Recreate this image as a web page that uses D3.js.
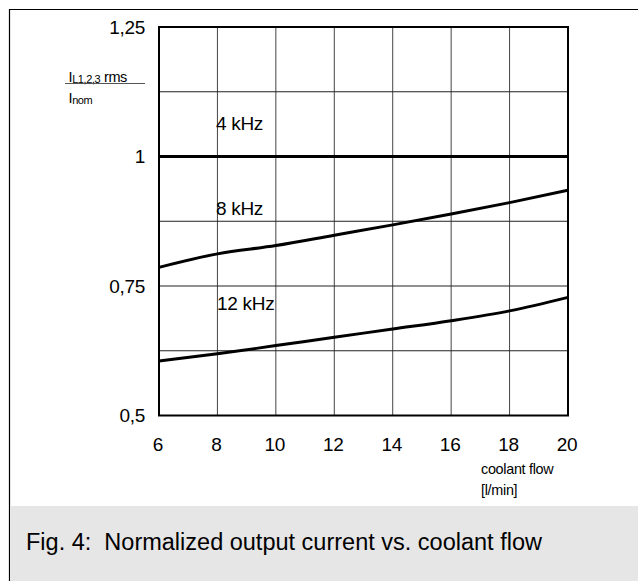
<!DOCTYPE html>
<html>
<head>
<meta charset="utf-8">
<script src="https://cdn.jsdelivr.net/npm/d3@7"></script>
<style>
  body { margin: 0; background: white; }
  text { font-family: "Liberation Sans", Arial, sans-serif; fill: #000; }
</style>
</head>
<body>
<div id="d3_cont"></div>
<script>
// data
var flow = [6, 8, 10, 12, 14, 16, 18, 20];
var khz4 = [1, 1, 1, 1, 1, 1, 1, 1];
var khz8 = [0.786, 0.812, 0.828, 0.848, 0.868, 0.889, 0.911, 0.935];
var khz12 = [0.605, 0.619, 0.635, 0.651, 0.667, 0.683, 0.702, 0.728];
var seriesNames = ["4 kHz", "8 kHz", "12 kHz"];
var xTicks = [6, 8, 10, 12, 14, 16, 18, 20];
var yTicks = [0.5, 0.75, 1, 1.25];
var yTickLabels = ["0,5", "0,75", "1", "1,25"];
var yGrid = [0.625, 0.875, 1.125];
var caption = "Fig. 4:\u00a0\u00a0Normalized output current vs. coolant flow";

var W = 638, H = 581;

var svg = d3.select("#d3_cont")
   .append("svg")
   .attr("width", W)
   .attr("height", H);

// outer frame
svg.append("path")
   .attr("d", "M9.5," + H + "V9.5H" + W)
   .attr("fill", "none")
   .attr("stroke", "#000")
   .attr("stroke-width", 1.2);

// caption band
svg.append("rect")
   .attr("x", 10).attr("y", 506)
   .attr("width", W - 10).attr("height", H - 506)
   .attr("fill", "#e6e6e6");
svg.append("text")
   .attr("x", 26).attr("y", 550)
   .style("font-size", "23.5px")
   .text(caption);

var x = d3.scaleLinear().domain([6, 20]).range([159, 568]);
var y = d3.scaleLinear().domain([0.5, 1.25]).range([415.5, 27]);

var g = svg.append("g");

// vertical grid
g.selectAll(".vg")
   .data(xTicks.slice(1, -1))
   .enter().append("line")
   .attr("x1", d => x(d)).attr("x2", d => x(d))
   .attr("y1", y(1.25)).attr("y2", y(0.5))
   .attr("stroke", "#444").attr("stroke-width", 1);

// horizontal grid
g.selectAll(".hg")
   .data(yGrid.concat([0.75]))
   .enter().append("line")
   .attr("x1", x(6)).attr("x2", x(20))
   .attr("y1", d => y(d)).attr("y2", d => y(d))
   .attr("stroke", "#222").attr("stroke-width", 1);

// plot frame
g.append("rect")
   .attr("x", x(6)).attr("y", y(1.25))
   .attr("width", x(20) - x(6)).attr("height", y(0.5) - y(1.25))
   .attr("fill", "none")
   .attr("stroke", "#000").attr("stroke-width", 2);

// curves
var line = d3.line()
   .x((d, i) => x(flow[i]))
   .y(d => y(d))
   .curve(d3.curveMonotoneX);

[khz4, khz8, khz12].forEach(function (s) {
   g.append("path")
      .datum(s)
      .attr("d", line)
      .attr("fill", "none")
      .attr("stroke", "#000")
      .attr("stroke-width", 3);
});

// series labels
var labelY = [130, 215, 310];
var labelX = [216, 216, 217];
seriesNames.forEach(function (n, i) {
   svg.append("text")
      .attr("x", labelX[i]).attr("y", labelY[i])
      .style("font-size", "19px")
      .style("letter-spacing", "-0.3px")
      .text(n);
});

// y tick labels
svg.selectAll(".yl")
   .data(yTicks)
   .enter().append("text")
   .attr("x", 145)
   .attr("y", d => y(d) + 6.5)
   .attr("text-anchor", "end")
   .style("font-size", "19px")
   .style("letter-spacing", "-0.3px")
   .text((d, i) => yTickLabels[i]);

// x tick labels
svg.selectAll(".xl")
   .data(xTicks)
   .enter().append("text")
   .attr("x", d => x(d) - 1)
   .attr("y", 451)
   .attr("text-anchor", "middle")
   .style("font-size", "19px")
   .style("letter-spacing", "-0.3px")
   .text(d => d);

// x axis title
svg.append("text")
   .attr("x", 481).attr("y", 474)
   .style("font-size", "14.4px")
   .style("letter-spacing", "-0.3px")
   .text("coolant flow");
svg.append("text")
   .attr("x", 481).attr("y", 495)
   .style("font-size", "14.4px")
   .style("letter-spacing", "-0.3px")
   .text("[l/min]");

// y axis title (fraction)
var yt = svg.append("text")
   .attr("x", 68.5).attr("y", 81.5)
   .style("font-size", "14.5px")
   .style("letter-spacing", "-0.4px");
yt.append("tspan").text("I");
yt.append("tspan").attr("dy", 1.5).style("font-size", "11px").text("L1,2,3");
yt.append("tspan").attr("dy", -1.5).text(" rms");
svg.append("line")
   .attr("x1", 65).attr("x2", 145)
   .attr("y1", 83.5).attr("y2", 83.5)
   .attr("stroke", "#555").attr("stroke-width", 1);
var yb = svg.append("text")
   .attr("x", 68.5).attr("y", 102.5)
   .style("font-size", "14.5px")
   .style("letter-spacing", "-0.4px");
yb.append("tspan").text("I");
yb.append("tspan").attr("dy", 1).style("font-size", "11px").text("nom");
</script>
</body>
</html>
